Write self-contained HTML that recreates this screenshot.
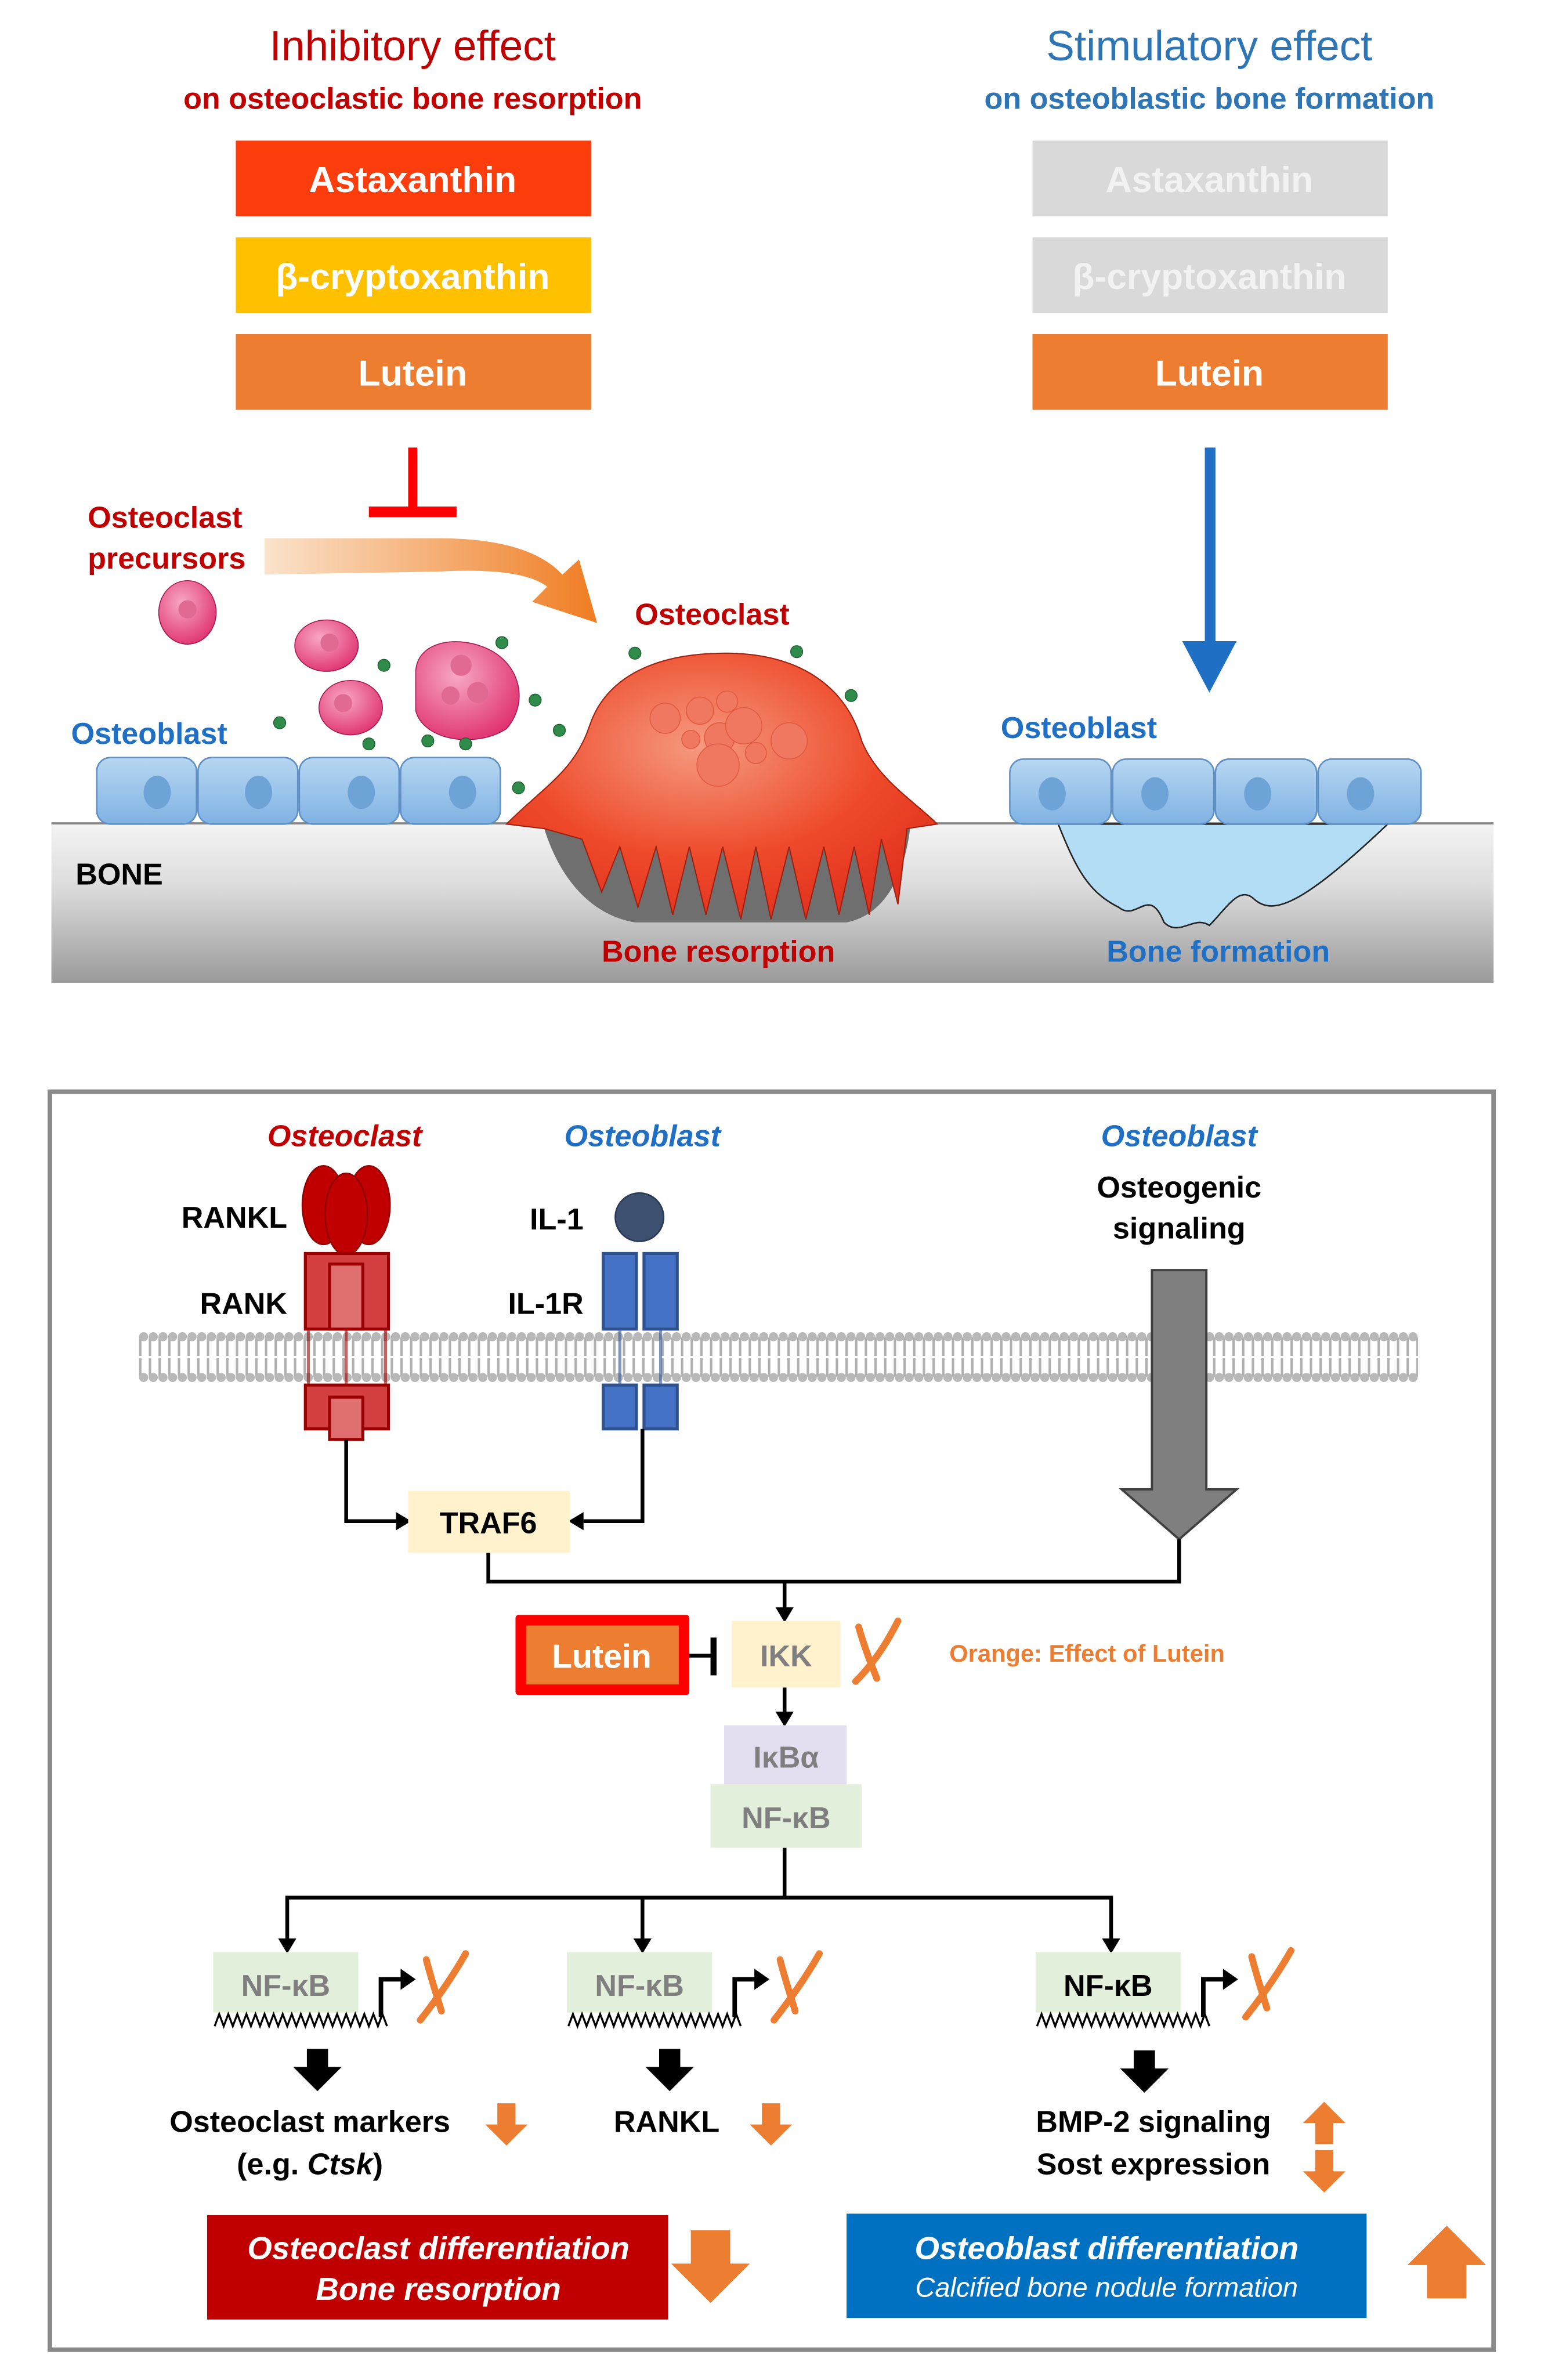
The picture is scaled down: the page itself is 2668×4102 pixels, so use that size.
<!DOCTYPE html>
<html><head><meta charset="utf-8"><style>
html,body{margin:0;padding:0;background:#fff;}
svg{display:block;}
text{font-family:"Liberation Sans",Arial,sans-serif;font-weight:bold;}
</style></head><body>
<svg width="2668" height="4102" viewBox="0 0 1024 1574" preserveAspectRatio="none" xmlns="http://www.w3.org/2000/svg">
<defs>
<linearGradient id="bone" x1="0" y1="0" x2="0" y2="1"><stop offset="0" stop-color="#f4f4f4"/><stop offset="0.4" stop-color="#dcdcdc"/><stop offset="1" stop-color="#9a9a9a"/></linearGradient>
<linearGradient id="oarr" x1="0" y1="0" x2="1" y2="0"><stop offset="0" stop-color="#fbe3cc"/><stop offset="1" stop-color="#ef7d22"/></linearGradient>
<radialGradient id="ocl" cx="0.45" cy="0.35" r="0.7"><stop offset="0" stop-color="#f59a80"/><stop offset="0.6" stop-color="#ee4a2a"/><stop offset="1" stop-color="#e0301e"/></radialGradient>
<radialGradient id="pink" cx="0.4" cy="0.35" r="0.7"><stop offset="0" stop-color="#f7a8c4"/><stop offset="1" stop-color="#e0326e"/></radialGradient>
<linearGradient id="cell" x1="0" y1="0" x2="0" y2="1"><stop offset="0" stop-color="#b7d7f2"/><stop offset="1" stop-color="#7fb2e3"/></linearGradient>
</defs>

<!-- Top titles -->
<text x="273" y="40" font-size="28" fill="#c00000" text-anchor="middle" style="font-weight:normal">Inhibitory effect</text>
<text x="273" y="72" font-size="20" fill="#c00000" text-anchor="middle">on osteoclastic bone resorption</text>
<text x="800" y="40" font-size="28" fill="#2e75b6" text-anchor="middle" style="font-weight:normal">Stimulatory effect</text>
<text x="800" y="72" font-size="20" fill="#2e75b6" text-anchor="middle">on osteoblastic bone formation</text>

<rect x="156" y="93" width="235" height="50" fill="#fe3d0d"/>
<text x="273" y="127" font-size="24" fill="#fff" text-anchor="middle">Astaxanthin</text>
<rect x="156" y="157" width="235" height="50" fill="#ffc000"/>
<text x="273" y="191" font-size="24" fill="#fff" text-anchor="middle">β-cryptoxanthin</text>
<rect x="156" y="221" width="235" height="50" fill="#ed7d31"/>
<text x="273" y="255" font-size="24" fill="#fff" text-anchor="middle">Lutein</text>

<rect x="683" y="93" width="235" height="50" fill="#d9d9d9"/>
<text x="800" y="127" font-size="24" fill="#f2f2f2" text-anchor="middle">Astaxanthin</text>
<rect x="683" y="157" width="235" height="50" fill="#d9d9d9"/>
<text x="800" y="191" font-size="24" fill="#f2f2f2" text-anchor="middle">β-cryptoxanthin</text>
<rect x="683" y="221" width="235" height="50" fill="#ed7d31"/>
<text x="800" y="255" font-size="24" fill="#fff" text-anchor="middle">Lutein</text>

<rect x="270" y="296" width="6" height="42" fill="#ff0000"/>
<rect x="244" y="335" width="58" height="7" fill="#ff0000"/>
<rect x="797" y="296" width="7" height="130" fill="#1f6fc5"/>
<polygon points="782,424 818,424 800,458" fill="#1f6fc5"/>
<path d="M175,356 L290,356 Q350,356 372,380 L383,370 L395,412 L352,398 L362,388 Q345,375 290,378 L175,380 Z" fill="url(#oarr)"/>

<rect x="34" y="544" width="954" height="106" fill="url(#bone)"/>
<line x1="34" y1="544.5" x2="988" y2="544.5" stroke="#888" stroke-width="1.5"/>
<path d="M700,545 C712,575 720,590 740,600 C752,610 760,585 770,610 C780,620 790,605 800,612 C812,600 820,585 830,595 C842,605 860,600 918,545 Z" fill="#b3dcf5" stroke="#222" stroke-width="1"/>

<g stroke="#5f8fc4" stroke-width="1" fill="url(#cell)">
<rect x="64" y="501" width="66" height="44" rx="9"/><rect x="131" y="501" width="66" height="44" rx="9"/><rect x="198" y="501" width="66" height="44" rx="9"/><rect x="265" y="501" width="66" height="44" rx="9"/>
<rect x="668" y="502" width="67" height="43" rx="9"/><rect x="736" y="502" width="67" height="43" rx="9"/><rect x="804" y="502" width="67" height="43" rx="9"/><rect x="872" y="502" width="68" height="43" rx="9"/>
</g>
<g fill="#6ea3d8">
<ellipse cx="104" cy="524" rx="9" ry="11"/><ellipse cx="171" cy="524" rx="9" ry="11"/><ellipse cx="239" cy="524" rx="9" ry="11"/><ellipse cx="306" cy="524" rx="9" ry="11"/>
<ellipse cx="696" cy="525" rx="9" ry="11"/><ellipse cx="764" cy="525" rx="9" ry="11"/><ellipse cx="832" cy="525" rx="9" ry="11"/><ellipse cx="900" cy="525" rx="9" ry="11"/>
</g>

<!-- osteoclast -->
<path d="M360,548 C370,580 390,605 420,610 L560,610 C585,605 598,580 602,548 Z" fill="#6f6f6f"/>
<path d="M335,545 C360,520 380,510 390,480 C400,450 430,432 480,432 C530,432 560,455 570,490 C580,515 605,530 620,545 L600,548 L594,598 L583,555 L575,605 L565,560 L555,605 L545,560 L533,608 L522,560 L510,608 L500,560 L490,608 L478,560 L467,605 L456,560 L445,605 L434,560 L422,600 L410,560 L398,590 L385,555 L360,548 Z" fill="url(#ocl)" stroke="#a02010" stroke-width="0.8"/>
<g fill="#f07860" stroke="#e05a40" stroke-width="0.6">
<circle cx="440" cy="475" r="10"/><circle cx="463" cy="470" r="9"/><circle cx="476" cy="488" r="10"/><circle cx="457" cy="489" r="6"/><circle cx="492" cy="480" r="12"/><circle cx="522" cy="490" r="12"/><circle cx="475" cy="506" r="14"/><circle cx="500" cy="498" r="7"/><circle cx="481" cy="464" r="7"/>
</g>
<ellipse cx="124" cy="405" rx="19" ry="21" fill="url(#pink)" stroke="#a01850" stroke-width="0.6"/>
<circle cx="124" cy="403" r="6" fill="#e06a92"/>
<ellipse cx="216" cy="427" rx="21" ry="17" fill="url(#pink)" stroke="#a01850" stroke-width="0.6"/>
<circle cx="218" cy="425" r="6" fill="#e06a92"/>
<ellipse cx="232" cy="468" rx="21" ry="18" fill="url(#pink)" stroke="#a01850" stroke-width="0.6"/>
<circle cx="227" cy="465" r="6" fill="#e06a92"/>
<path d="M275,445 C275,425 300,420 320,428 C345,438 350,465 335,482 C315,495 280,490 275,470Z" fill="url(#pink)" stroke="#a01850" stroke-width="0.6"/>
<circle cx="305" cy="440" r="7" fill="#e06a92"/><circle cx="298" cy="460" r="6" fill="#e06a92"/><circle cx="316" cy="458" r="7" fill="#e06a92"/>
<g fill="#2e8b4a" stroke="#1a5a2a" stroke-width="0.5">
<circle cx="185" cy="478" r="4"/><circle cx="254" cy="440" r="4"/><circle cx="332" cy="425" r="4"/><circle cx="354" cy="463" r="4"/><circle cx="244" cy="492" r="4"/><circle cx="283" cy="490" r="4"/><circle cx="308" cy="492" r="4"/><circle cx="343" cy="521" r="4"/><circle cx="370" cy="483" r="4"/><circle cx="420" cy="432" r="4"/><circle cx="527" cy="431" r="4"/><circle cx="563" cy="460" r="4"/>
</g>

<text x="58" y="349" font-size="20" fill="#c00000">Osteoclast</text>
<text x="58" y="376" font-size="20" fill="#c00000">precursors</text>
<text x="420" y="413" font-size="20" fill="#c00000">Osteoclast</text>
<text x="47" y="492" font-size="20" fill="#1f6fc5">Osteoblast</text>
<text x="662" y="488" font-size="20" fill="#1f6fc5">Osteoblast</text>
<text x="50" y="585" font-size="20" fill="#000">BONE</text>
<text x="398" y="636" font-size="20" fill="#c00000">Bone resorption</text>
<text x="732" y="636" font-size="20" fill="#1f6fc5">Bone formation</text>

<!-- Bottom panel -->
<rect x="33" y="722" width="955" height="832" fill="none" stroke="#8a8a8a" stroke-width="3"/>
<text x="228" y="758" font-size="20" fill="#c00000" text-anchor="middle" font-style="italic">Osteoclast</text>
<text x="425" y="758" font-size="20" fill="#1f6fc5" text-anchor="middle" font-style="italic">Osteoblast</text>
<text x="780" y="758" font-size="20" fill="#1f6fc5" text-anchor="middle" font-style="italic">Osteoblast</text>
<text x="780" y="792" font-size="20" fill="#000" text-anchor="middle">Osteogenic</text>
<text x="780" y="819" font-size="20" fill="#000" text-anchor="middle">signaling</text>

<!-- membrane -->
<line x1="92" y1="897.5" x2="938" y2="897.5" stroke="#b0b0b0" stroke-width="26" stroke-dasharray="1.6 4.8"/>
<line x1="92" y1="897.5" x2="938" y2="897.5" stroke="#fff" stroke-width="1.5"/>
<line x1="95" y1="884" x2="938" y2="884" stroke="#b8b8b8" stroke-width="6" stroke-dasharray="0.01 6.4" stroke-linecap="round"/>
<line x1="95" y1="911" x2="938" y2="911" stroke="#b8b8b8" stroke-width="6" stroke-dasharray="0.01 6.4" stroke-linecap="round"/>

<text x="190" y="812" font-size="20" fill="#000" text-anchor="end">RANKL</text>
<text x="190" y="869" font-size="20" fill="#000" text-anchor="end">RANK</text>
<g fill="#c00000" stroke="#900000" stroke-width="1">
<ellipse cx="214" cy="797" rx="14" ry="26"/><ellipse cx="244" cy="797" rx="14" ry="26"/><ellipse cx="229" cy="803" rx="14" ry="27"/>
</g>
<g stroke="#9a0000" stroke-width="2">
<rect x="202" y="829" width="55" height="50" fill="#d44040"/>
<rect x="202" y="916" width="55" height="29" fill="#d44040" />
<rect x="218" y="836" width="22" height="43" fill="#e07070"/>
<rect x="218" y="924" width="22" height="28" fill="#e07070"/>
</g>
<g stroke="#9a0000" stroke-width="2" opacity="0.6">
<line x1="204" y1="880" x2="204" y2="915"/><line x1="255" y1="880" x2="255" y2="915"/><line x1="229" y1="880" x2="229" y2="915"/>
</g>

<text x="386" y="813" font-size="20" fill="#000" text-anchor="end">IL-1</text>
<text x="386" y="869" font-size="20" fill="#000" text-anchor="end">IL-1R</text>
<circle cx="423" cy="805" r="16" fill="#3d5070" stroke="#2a3a55"/>
<g fill="#4472c4" stroke="#2f528f" stroke-width="2">
<rect x="399" y="829" width="22" height="50"/><rect x="426" y="829" width="22" height="50"/>
<rect x="399" y="916" width="22" height="29"/><rect x="426" y="916" width="22" height="29"/>
</g>
<g stroke="#2f528f" stroke-width="2" opacity="0.6">
<line x1="410" y1="880" x2="410" y2="915"/><line x1="437" y1="880" x2="437" y2="915"/>
</g>

<path d="M762,840 L798,840 L798,985 L818,985 L780,1018 L742,985 L762,985 Z" fill="#7f7f7f" stroke="#404040" stroke-width="1.5"/>

<g stroke="#000" stroke-width="2.5" fill="none">
<polyline points="229,952 229,1006 262,1006"/>
<polyline points="425,945 425,1006 386,1006"/>
<polyline points="323,1027 323,1046 780,1046 780,1018"/>
<line x1="519" y1="1046" x2="519" y2="1064"/>
<line x1="519" y1="1116" x2="519" y2="1133"/>
<line x1="519" y1="1222" x2="519" y2="1255"/>
<polyline points="190,1284 190,1255 735,1255 735,1284"/>
<line x1="425" y1="1255" x2="425" y2="1284"/>
<line x1="456" y1="1095" x2="472" y2="1095"/>
</g>
<line x1="472" y1="1083" x2="472" y2="1108" stroke="#000" stroke-width="4"/>
<g fill="#000">
<polygon points="262,1000 272,1006 262,1012"/>
<polygon points="386,1000 376,1006 386,1012"/>
<polygon points="513,1063 525,1063 519,1073"/>
<polygon points="513,1132 525,1132 519,1142"/>
<polygon points="184,1282 196,1282 190,1292"/>
<polygon points="419,1282 431,1282 425,1292"/>
<polygon points="729,1282 741,1282 735,1292"/>
</g>

<rect x="270" y="986" width="107" height="41" fill="#fff2cc"/>
<text x="323" y="1014" font-size="20" fill="#000" text-anchor="middle">TRAF6</text>

<rect x="341" y="1068" width="115" height="53" fill="#ff0000" rx="2"/>
<rect x="348" y="1075" width="101" height="39" fill="#ed7d31"/>
<text x="398" y="1103" font-size="22" fill="#fff" text-anchor="middle">Lutein</text>
<rect x="484" y="1072" width="72" height="44" fill="#fff2cc"/>
<text x="520" y="1102" font-size="20" fill="#7f7f7f" text-anchor="middle">IKK</text>
<text x="628" y="1099" font-size="16" fill="#ed7d31">Orange: Effect of Lutein</text>

<!-- orange X marks -->
<g stroke="#ed7d31" stroke-width="4.5" fill="none" stroke-linecap="round">
<path d="M568,1076 C572,1090 576,1100 580,1110 M594,1072 C585,1090 575,1103 566,1112"/>
<path d="M282,1296 C285,1308 289,1320 292,1330 M308,1292 C299,1308 289,1322 278,1336"/>
<path d="M516,1296 C519,1308 523,1320 526,1330 M542,1292 C533,1308 523,1322 512,1336"/>
<path d="M828,1294 C831,1306 835,1318 838,1328 M854,1290 C845,1306 835,1320 824,1334"/>
</g>

<rect x="479" y="1141" width="81" height="39" fill="#e4dff0"/>
<text x="520" y="1169" font-size="20" fill="#7f7f7f" text-anchor="middle">IκBα</text>
<rect x="470" y="1180" width="100" height="42" fill="#e2efda"/>
<text x="520" y="1209" font-size="20" fill="#7f7f7f" text-anchor="middle">NF-κB</text>

<rect x="141" y="1291" width="96" height="40" fill="#e2efda"/>
<text x="189" y="1320" font-size="20" fill="#7f7f7f" text-anchor="middle">NF-κB</text>
<rect x="375" y="1291" width="96" height="40" fill="#e2efda"/>
<text x="423" y="1320" font-size="20" fill="#7f7f7f" text-anchor="middle">NF-κB</text>
<rect x="685" y="1291" width="96" height="40" fill="#e2efda"/>
<text x="733" y="1320" font-size="20" fill="#000" text-anchor="middle">NF-κB</text>
<g stroke="#000" stroke-width="1.3" fill="none" id="zz">
<polyline points="142,1340 145,1332 148,1340 151,1332 154,1340 157,1332 160,1340 163,1332 166,1340 169,1332 172,1340 175,1332 178,1340 181,1332 184,1340 187,1332 190,1340 193,1332 196,1340 199,1332 202,1340 205,1332 208,1340 211,1332 214,1340 217,1332 220,1340 223,1332 226,1340 229,1332 232,1340 235,1332 238,1340 241,1332 244,1340 247,1332 250,1340 253,1332 256,1340"/>
<polyline transform="translate(234,0)" points="142,1340 145,1332 148,1340 151,1332 154,1340 157,1332 160,1340 163,1332 166,1340 169,1332 172,1340 175,1332 178,1340 181,1332 184,1340 187,1332 190,1340 193,1332 196,1340 199,1332 202,1340 205,1332 208,1340 211,1332 214,1340 217,1332 220,1340 223,1332 226,1340 229,1332 232,1340 235,1332 238,1340 241,1332 244,1340 247,1332 250,1340 253,1332 256,1340"/>
<polyline transform="translate(544,0)" points="142,1340 145,1332 148,1340 151,1332 154,1340 157,1332 160,1340 163,1332 166,1340 169,1332 172,1340 175,1332 178,1340 181,1332 184,1340 187,1332 190,1340 193,1332 196,1340 199,1332 202,1340 205,1332 208,1340 211,1332 214,1340 217,1332 220,1340 223,1332 226,1340 229,1332 232,1340 235,1332 238,1340 241,1332 244,1340 247,1332 250,1340 253,1332 256,1340"/>
</g>
<g stroke="#000" stroke-width="3" fill="none">
<polyline points="252,1334 252,1309 266,1309"/>
<polyline points="486,1334 486,1309 500,1309"/>
<polyline points="796,1334 796,1309 810,1309"/>
</g>
<g fill="#000">
<polygon points="265,1302 275,1309 265,1316"/>
<polygon points="499,1302 509,1309 499,1316"/>
<polygon points="809,1302 819,1309 809,1316"/>
<path d="M203,1355 h14 v12 h9 l-16,16 l-16,-16 h9z"/>
<path d="M436,1355 h14 v12 h9 l-16,16 l-16,-16 h9z"/>
<path d="M750,1356 h14 v12 h9 l-16,16 l-16,-16 h9z"/>
</g>

<text x="205" y="1410" font-size="20" fill="#000" text-anchor="middle">Osteoclast markers</text>
<text x="205" y="1438" font-size="20" fill="#000" text-anchor="middle">(e.g. <tspan font-style="italic">Ctsk</tspan>)</text>
<text x="441" y="1410" font-size="20" fill="#000" text-anchor="middle">RANKL</text>
<text x="763" y="1410" font-size="20" fill="#000" text-anchor="middle">BMP-2 signaling</text>
<text x="763" y="1438" font-size="20" fill="#000" text-anchor="middle">Sost expression</text>

<g fill="#ed7d31">
<path d="M329,1391 h12 v14 h8 l-14,14 l-14,-14 h8z"/>
<path d="M504,1391 h12 v14 h8 l-14,14 l-14,-14 h8z"/>
<path d="M870,1418 h12 v-14 h8 l-14,-14 l-14,14 h8z"/>
<path d="M870,1422 h12 v14 h8 l-14,14 l-14,-14 h8z"/>
<path d="M457,1475 h26 v22 h13 l-26,26 l-26,-26 h13z"/>
<path d="M944,1520 h26 v-22 h13 l-26,-26 l-26,26 h13z"/>
</g>

<rect x="137" y="1465" width="305" height="69" fill="#c00000"/>
<text x="290" y="1494" font-size="21" fill="#fff" text-anchor="middle" font-style="italic">Osteoclast differentiation</text>
<text x="290" y="1521" font-size="21" fill="#fff" text-anchor="middle" font-style="italic">Bone resorption</text>
<rect x="560" y="1464" width="344" height="69" fill="#0070c0"/>
<text x="732" y="1494" font-size="21" fill="#fff" text-anchor="middle" font-style="italic">Osteoblast differentiation</text>
<text x="732" y="1519" font-size="18" fill="#fff" text-anchor="middle" font-style="italic" style="font-weight:normal">Calcified bone nodule formation</text>
</svg>
</body></html>
